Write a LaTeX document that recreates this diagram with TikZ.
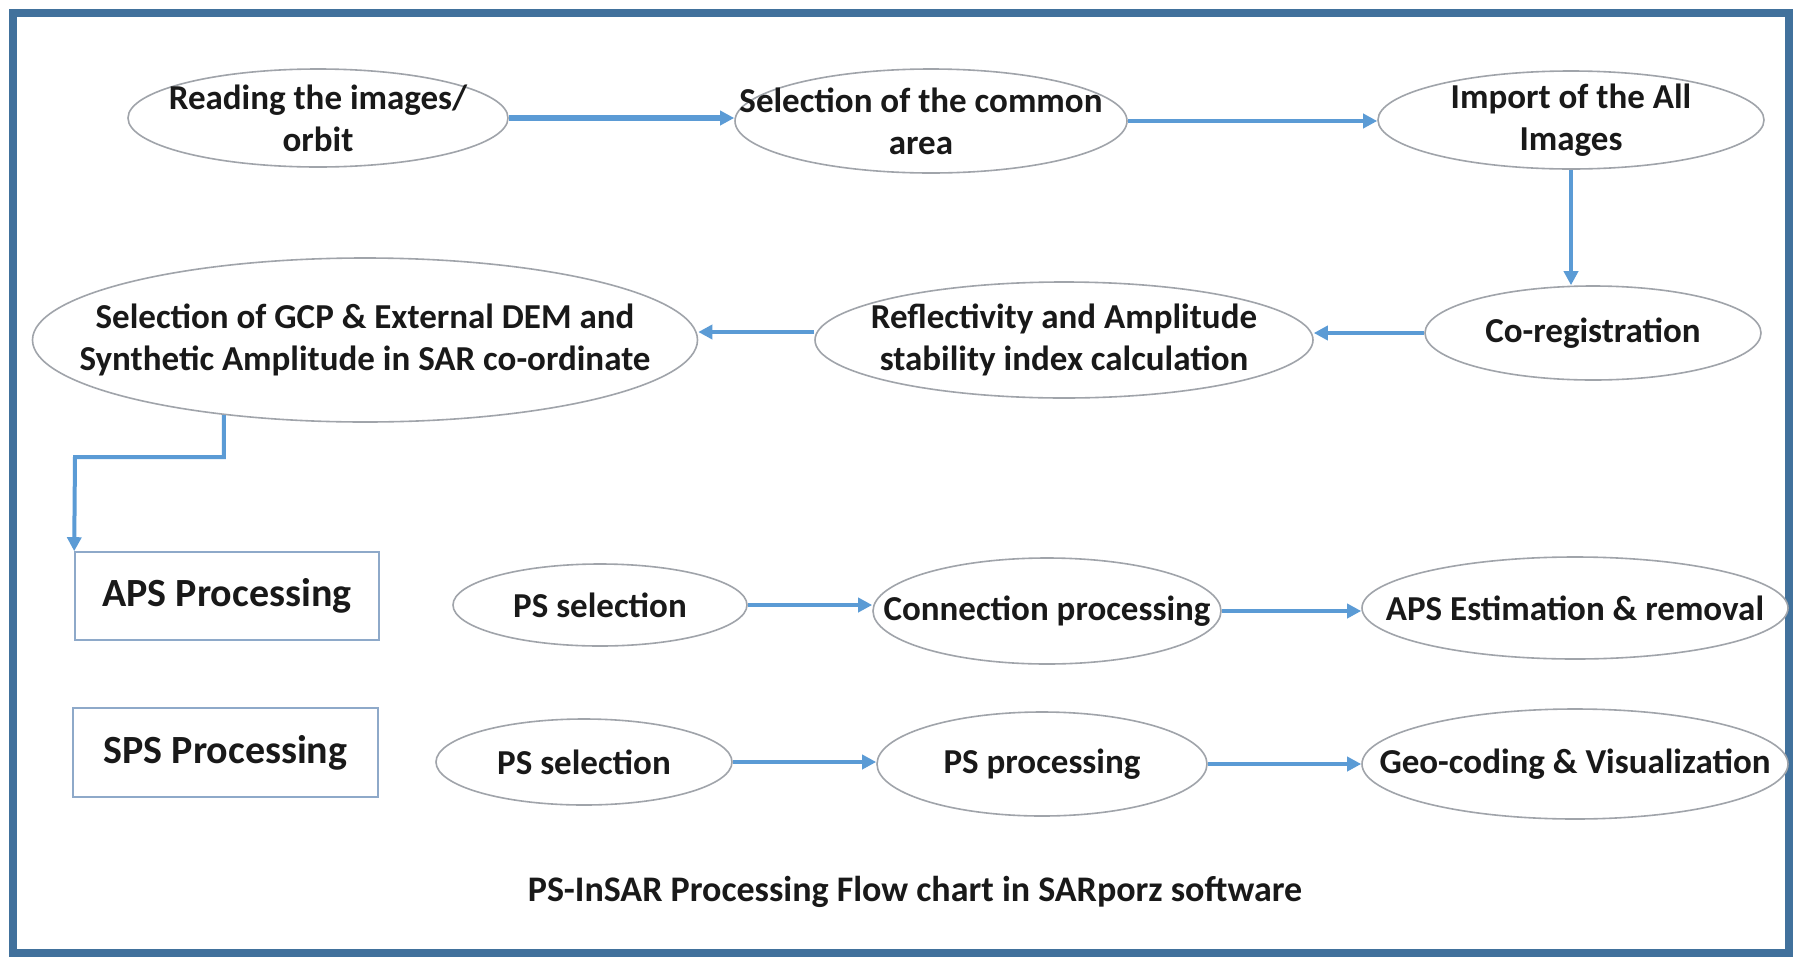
\documentclass[tikz,border=0pt]{standalone}
\usepackage{fontspec}
\setmainfont{Carlito}
\usetikzlibrary{arrows.meta,shapes.geometric}
\definecolor{frameblue}{HTML}{41719C}
\definecolor{arrblue}{HTML}{5B9BD5}
\definecolor{ellgray}{HTML}{A0A4AA}
\definecolor{rectblue}{HTML}{8EA9C9}
\begin{document}
\begin{tikzpicture}[x=1pt,y=-1pt,
 ell/.style={ellipse, draw=ellgray, line width=1.6pt, fill=white, inner sep=0pt},
 txt/.style={align=center, font=\fontsize{35}{42}\selectfont\bfseries, text=black!90, inner sep=0pt},
 box/.style={rectangle, draw=rectblue, line width=1.6pt, fill=white, inner sep=0pt, text=black!90, font=\fontsize{40}{48}\selectfont\bfseries},
 arr/.style={draw=arrblue, line width=4pt, -{Triangle[length=14pt,width=14pt]}},
 captxt/.style={font=\fontsize{36}{42}\selectfont\bfseries, text=black!90}
]
\fill[white] (0,0) rectangle (1800,959);
\useasboundingbox (0,0) rectangle (1800,959);
\draw[frameblue, line width=8pt] (13,13) rectangle (1789,953);

% row 1
\node[ell, minimum width=380pt, minimum height=98pt, label={[txt]center:Reading the images/\\orbit}] (read) at (318,118) {};
\node[ell, minimum width=392pt, minimum height=104pt, label={[txt,xshift=-10pt]center:Selection of the common\\area}] (sel) at (931,121) {};
\node[ell, minimum width=386pt, minimum height=98pt, label={[txt]center:Import of the All\\Images}] (imp) at (1571,120) {};
% row 2
\node[ell, minimum width=336pt, minimum height=94pt, label={[txt]center:Co-registration}] (coreg) at (1593,333) {};
\node[ell, minimum width=498pt, minimum height=116pt, label={[txt]center:Reflectivity and Amplitude\\stability index calculation}] (refl) at (1064,340) {};
\node[ell, minimum width=665pt, minimum height=164pt, label={[txt]center:Selection of GCP \& External DEM and\\Synthetic Amplitude in SAR co-ordinate}] (gcp) at (365,340) {};
% boxes
\node[box, minimum width=304pt, minimum height=88pt] (aps) at (227,596) {APS Processing};
\node[box, minimum width=305pt, minimum height=89pt] (sps) at (225.5,752.5) {SPS Processing};
% APS row
\node[ell, minimum width=294pt, minimum height=82pt, label={[txt]center:PS selection}] (ps1) at (600,605) {};
\node[ell, minimum width=348pt, minimum height=106pt, label={[txt]center:Connection processing}] (conn) at (1047,611) {};
\node[ell, minimum width=426pt, minimum height=102pt, label={[txt]center:APS Estimation \& removal}] (apse) at (1575,608) {};
% SPS row
\node[ell, minimum width=296pt, minimum height=86pt, label={[txt]center:PS selection}] (ps2) at (584,762) {};
\node[ell, minimum width=330pt, minimum height=104pt, label={[txt]center:PS processing}] (psp) at (1042,764) {};
\node[ell, minimum width=426pt, minimum height=110pt, label={[txt]center:Geo-coding \& Visualization}] (geo) at (1575,764) {};
% caption
\node[captxt] (cap) at (915,892) {PS-InSAR Processing Flow chart in SARporz software};

% connectors
\draw[arr, line width=6pt] (read.east) -- (read.east -| sel.west);
\draw[arr] (sel.east) -- (sel.east -| imp.west);
\draw[arr] (imp.south) -- (imp.south |- coreg.north);
\draw[arr] (coreg.west) -- (coreg.west -| refl.east);
\draw[arr] ([yshift=8pt]refl.west) -- ([yshift=8pt]refl.west -| gcp.east);
\coordinate (bend) at (75,457);
\draw[arr] (gcp.208) |- (bend) -- (aps.north west);
\draw[arr] (ps1.east) -- (ps1.east -| conn.west);
\draw[arr] (conn.east) -- (conn.east -| apse.west);
\draw[arr] (ps2.east) -- (ps2.east -| psp.west);
\draw[arr] (psp.east) -- (psp.east -| geo.west);
\end{tikzpicture}
\end{document}
